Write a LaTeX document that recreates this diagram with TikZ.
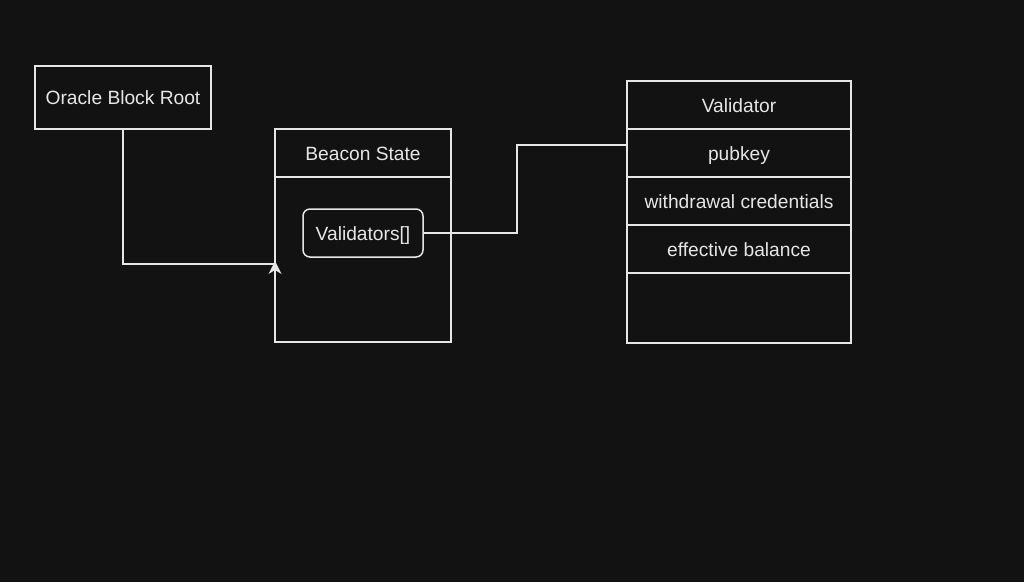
\documentclass[tikz,border=0pt]{standalone}
\usepackage{fontspec}
\setmainfont{Liberation Sans}
\definecolor{bg}{HTML}{121212}
\definecolor{fg}{HTML}{E6E6E6}
\begin{document}
\begin{tikzpicture}[x=1pt,y=-1pt,
  box/.style={draw=fg,line width=1.5pt,rectangle,inner sep=0pt},
  lbl/.style={text=fg,anchor=base,inner sep=0pt,font=\fontsize{19.2}{23}\selectfont},
  wire/.style={draw=fg,line width=1.5pt}]
\fill[bg] (0,0) rectangle (1024,582);
\useasboundingbox (0,0) rectangle (1024,582);
% Oracle
\node[box,minimum width=176pt,minimum height=63pt] (oracle) at (123,97.5) {};
\node[lbl] (oraclet) at (123,104.4) {Oracle Block Root};
% Beacon state
\node[box,minimum width=176pt,minimum height=213pt] (beacon) at (363,235.5) {};
\draw[wire] (275,177) -- (451,177);
\node[lbl] (beacont) at (363,160) {Beacon State};
\node[box,rounded corners=7pt,minimum width=120pt,minimum height=48pt] (vals) at (363,233) {};
\node[lbl] (valst) at (363,240) {Validators[]};
% Validator
\node[box,minimum width=224pt,minimum height=262pt] (validator) at (739,212) {};
\foreach \yy in {129,177,225,273} \draw[wire] (627,\yy) -- (851,\yy);
\node[lbl] (vt) at (739,112) {Validator};
\node[lbl] (pk) at (739,160) {pubkey};
\node[lbl] (wc) at (739,208) {withdrawal credentials};
\node[lbl] (eb) at (739,256) {effective balance};
% connectors
\coordinate (c1) at (123,264);
\coordinate (c2) at (275,264);
\draw[wire] (oracle.south) -- (c1) -- (c2);
\coordinate (tip) at (275,261);
\coordinate (al) at (268.5,274);
\coordinate (an) at (275,270);
\coordinate (ar) at (281.5,274);
\fill[fg] (tip) -- (al) -- (an) -- (ar) -- cycle;
\coordinate (d1) at (517,233);
\coordinate (d2) at (517,145);
\coordinate (d3) at (627,145);
\draw[wire] (vals.east) -- (d1) -- (d2) -- (d3);
\end{tikzpicture}
\end{document}
